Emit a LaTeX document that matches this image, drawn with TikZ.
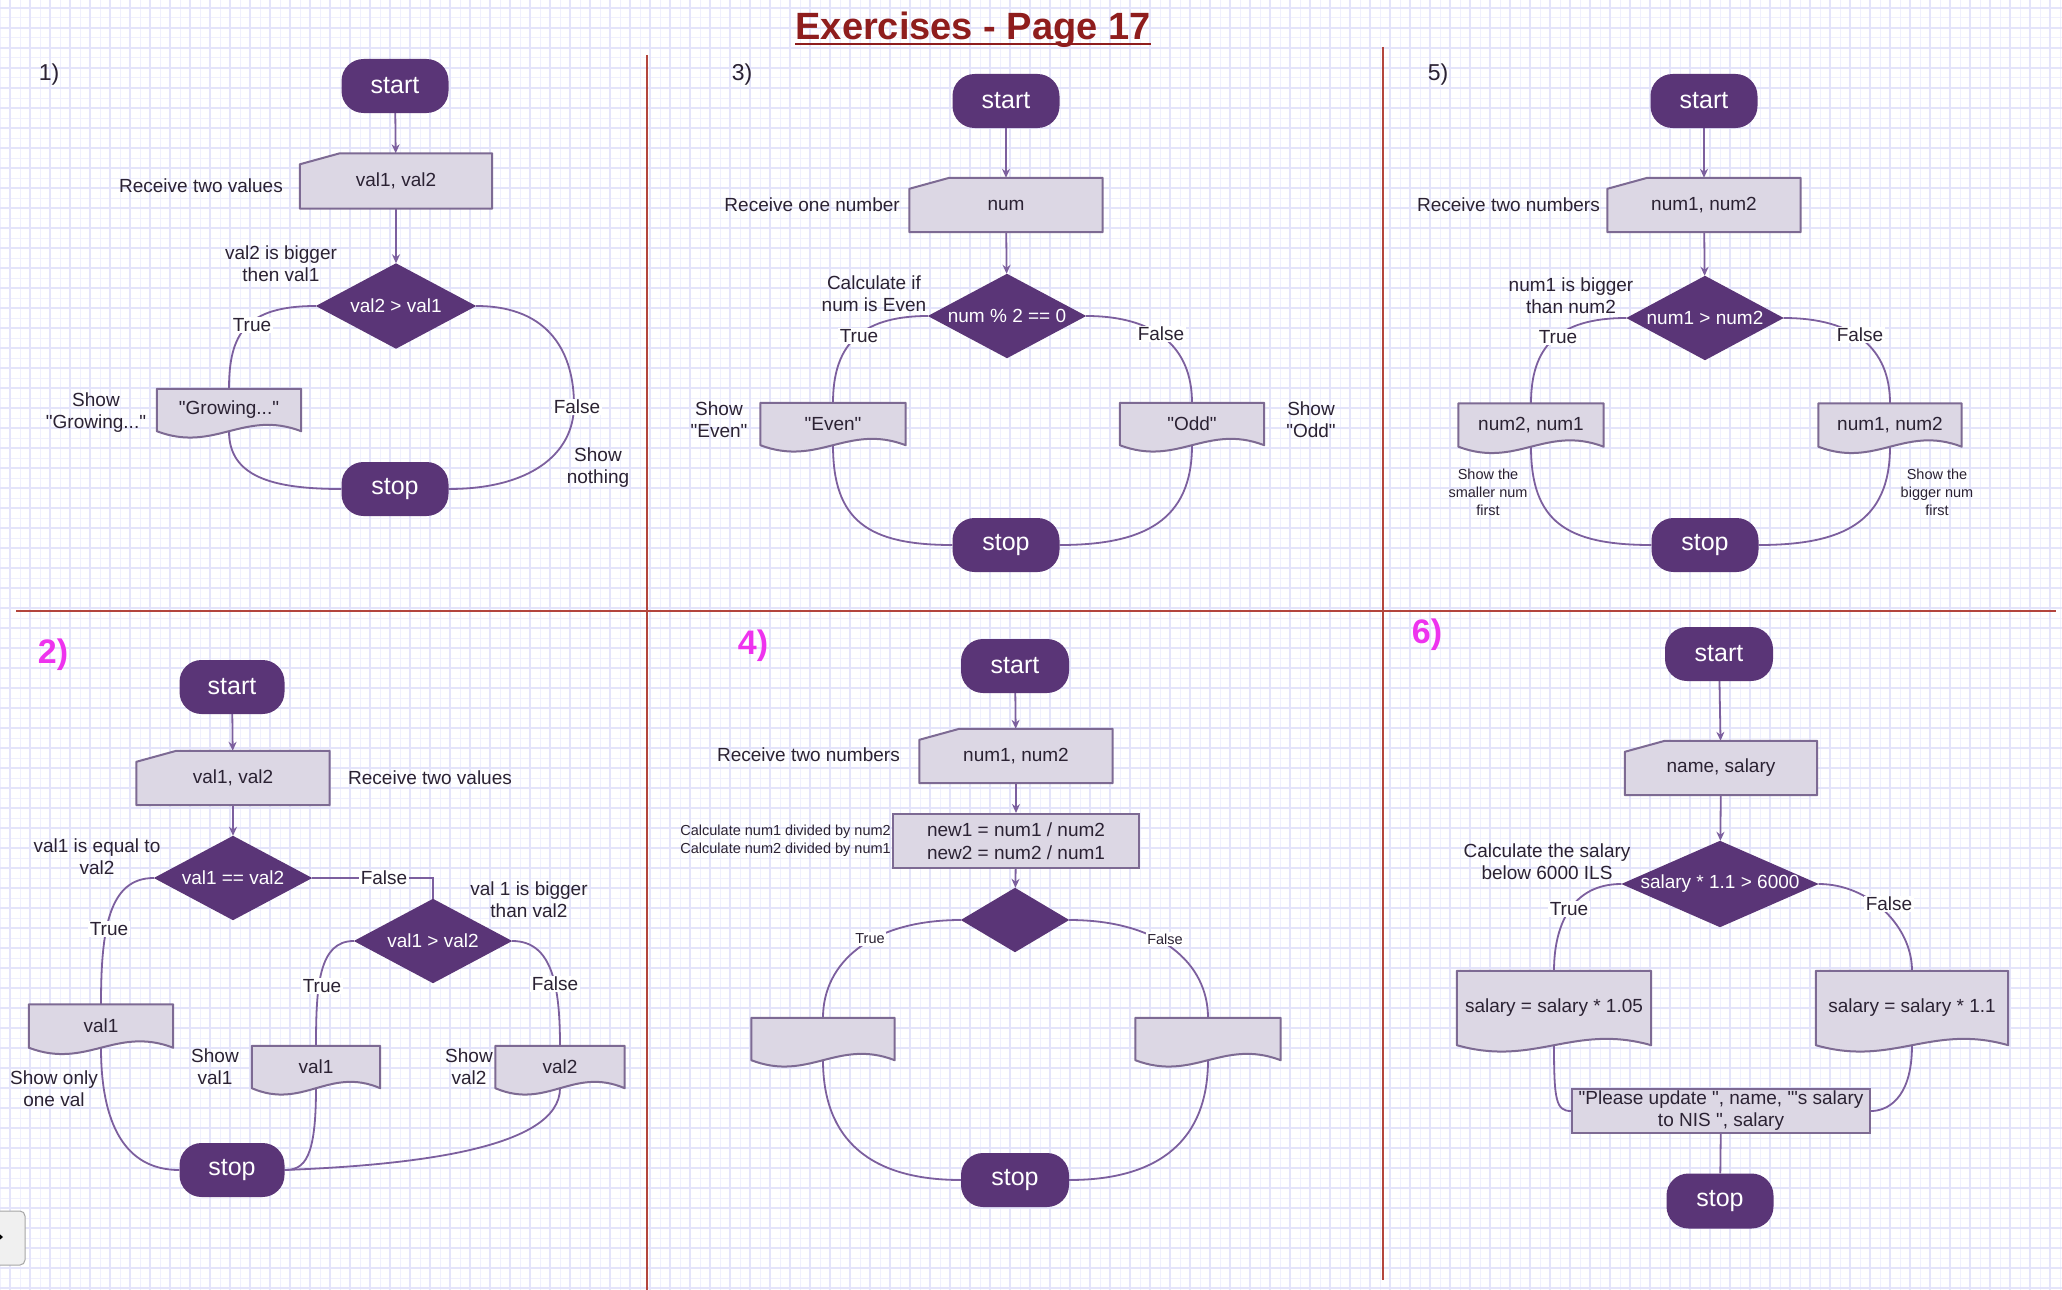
\documentclass[tikz,border=0pt]{standalone}
\usepackage{fontspec}
\setmainfont{Liberation Sans}
\newfontfamily\lsans{Liberation Sans}
\usetikzlibrary{calc,arrows.meta}
\definecolor{dpurple}{HTML}{5A3577}
\definecolor{boxfill}{HTML}{DCD7E4}
\definecolor{boxline}{HTML}{7D6A93}
\definecolor{connc}{HTML}{7C5F9E}
\definecolor{txt}{HTML}{2B2233}
\definecolor{divred}{HTML}{B3453D}
\definecolor{titlered}{HTML}{8F1D1D}
\definecolor{magen}{HTML}{EE33EE}
\definecolor{gridmaj}{HTML}{E4E4FA}
\definecolor{gridmin}{HTML}{F0F0FD}
\newcommand\lbfont{\lsans\fontsize{19}{22}\selectfont}
\newcommand\smfont{\lsans\fontsize{14.5}{18}\selectfont}
\newcommand\termfont{\lsans\fontsize{25}{28}\selectfont}
\newcommand\numfont{\lsans\fontsize{23}{26}\selectfont}
\newcommand\mnumfont{\lsans\bfseries\fontsize{34}{38}\selectfont}
\newcommand\prfont{\lsans\fontsize{19}{23}\selectfont}
\newcommand\ttlfont{\lsans\bfseries\fontsize{38}{42}\selectfont}
\pgfdeclarelayer{gridl}
\pgfdeclarelayer{lines}
\pgfdeclarelayer{bg}
\pgfsetlayers{gridl,lines,bg,main}
\newcommand\dshape[1]{\begin{pgfonlayer}{bg}\path[shpsty] (#1.north west) -- (#1.north east) -- (#1.south east) .. controls ($(#1.south west)!0.6!(#1.south east)+(0,-22)$) and ($(#1.south west)!0.4!(#1.south east)+(0,22)$) .. (#1.south west) -- cycle;\end{pgfonlayer}}
\newcommand\ishape[1]{\begin{pgfonlayer}{bg}\path[shpsty] (#1.south west) -- ($(#1.north west)+(0,11)$) -- ($(#1.north west)+(40,0)$) -- (#1.north east) -- (#1.south east) -- cycle;\end{pgfonlayer}}
\newcommand\kshape[1]{\begin{pgfonlayer}{bg}\fill[dpurple] (#1.north) -- (#1.east) -- (#1.south) -- (#1.west) -- cycle;\end{pgfonlayer}}
\begin{document}
\begin{tikzpicture}[x=1pt,y=-1pt,
  termsty/.style={rectangle,rounded corners=22pt,fill=dpurple,text=white,font=\termfont,minimum width=107pt,minimum height=54pt,inner sep=0pt},
  decsty/.style={rectangle,inner sep=0pt,text=white,font=\lbfont},
  inbox/.style={rectangle,inner sep=0pt,text=txt,font=\lbfont,minimum width=193pt,minimum height=54pt},
  docbox/.style={rectangle,inner sep=0pt,text=txt,font=\lbfont,minimum height=42pt},
  procbox/.style={rectangle,draw=boxline,fill=boxfill,line width=2pt,inner sep=0pt,text=txt,font=\prfont,align=center},
  labsty/.style={text=txt,font=\lbfont,align=center,inner sep=0pt},
  smlab/.style={text=txt,font=\smfont,align=center,inner sep=0pt},
  tfl/.style={text=txt,font=\lbfont,fill=white,inner sep=1.5pt},
  stfl/.style={text=txt,font=\smfont,fill=white,inner sep=1.5pt},
  connsty/.style={draw=connc,line width=1.8pt},
  arrsty/.style={connsty,-{Stealth[length=9pt,width=8pt]}},
  numsty/.style={text=txt,font=\numfont,inner sep=0pt},
  mnumsty/.style={text=magen,font=\mnumfont,inner sep=0pt},
  shpsty/.style={fill=boxfill,draw=boxline,line width=2pt,line join=round},
  divsty/.style={draw=divred,line width=2.5pt},
]
\useasboundingbox (0,0) rectangle (2062,1290);
% background grid
\begin{pgfonlayer}{gridl}
\fill[white] (0,0) rectangle (2062,1290);
\foreach \xx in {0,10,...,2060} \draw[gridmin,line width=1pt] (\xx,0) -- (\xx,1290);
\foreach \yy in {-2,8,...,1288} \draw[gridmin,line width=1pt] (0,\yy) -- (2062,\yy);
\foreach \xx in {10,30,...,2050} \draw[gridmaj,line width=1.6pt] (\xx,0) -- (\xx,1290);
\foreach \yy in {8,28,...,1288} \draw[gridmaj,line width=1.6pt] (0,\yy) -- (2062,\yy);
\draw[divsty] (16,611) -- (2056,611);
\draw[divsty] (647,55) -- (647,1290);
\draw[divsty] (1383,47) -- (1383,1280);
\end{pgfonlayer}
% title
\node[text=titlered,font=\ttlfont,inner sep=0pt,anchor=base] (title) at (973,40) {Exercises - Page 17};
\draw[titlered,line width=2.6pt] ($(title.base west)+(0,4)$) -- ($(title.base east)+(0,4)$);
% widget
\draw[fill=black!6,draw=black!35,rounded corners=5pt,line width=1pt] (-12,1211) rectangle (25,1265);
\fill[black] (-4,1231) -- (3,1237) -- (-4,1243) -- cycle;

% ===== Panel 1 =====
\node[numsty] (n1) at (49,75) {1)};
\node[termsty] (s1) at (395,86) {start};
\node[inbox,minimum width=192pt,minimum height=55pt] (i1) at (396,181) {val1, val2};
\node[labsty,anchor=east] (li1) at (283,186) {Receive two values};
\node[decsty,minimum width=160pt,minimum height=85pt] (d1) at (396,306) {val2 > val1};
\node[labsty] (ld1) at (281,264) {val2 is bigger\\then val1};
\node[docbox,minimum width=144pt] (g1) at (229,410) {"Growing..."};
\node[labsty] (lg1) at (96,413) {Show\\"Growing..."};
\node[termsty] (e1) at (395,489) {stop};
\coordinate (f1) at (574,405);
\ishape{i1}\kshape{d1}\dshape{g1}
\begin{pgfonlayer}{lines}
\draw[arrsty] (s1) -- (i1);
\draw[arrsty] (i1) -- (d1);
\draw[connsty] (d1.west) .. controls +(-70,0) and +(0,-55) .. (g1.north);
\draw[connsty] (g1.south) .. controls +(0,45) and +(-70,0) .. (e1.west);
\draw[connsty] (d1.east) .. controls +(75,0) and +(0,-50) .. (f1) .. controls +(0,50) and +(80,0) .. (e1.east);
\end{pgfonlayer}
\node[tfl] (t1) at (252,325) {True};
\node[tfl] (ff1) at (577,407) {False};
\node[labsty] (ln1) at (598,468) {Show\\nothing};

% ===== Panel 3 =====
\node[numsty] (n3) at (742,75) {3)};
\node[termsty] (s3) at (1006,101) {start};
\node[inbox] (i3) at (1006,205) {num};
\node[labsty,anchor=east] (li3) at (900,205) {Receive one number};
\node[decsty,minimum width=158pt,minimum height=84pt] (d3) at (1007,316) {num \% 2 == 0};
\node[labsty] (ld3) at (874,294) {Calculate if\\num is Even};
\node[docbox,minimum width=145pt] (v3) at (833,424) {"Even"};
\node[docbox,minimum width=144pt] (o3) at (1192,424) {"Odd"};
\node[labsty] (lv3) at (719,420) {Show\\"Even"};
\node[labsty] (lo3) at (1311,420) {Show\\"Odd"};
\node[termsty] (e3) at (1006,545) {stop};
\ishape{i3}\kshape{d3}\dshape{v3}\dshape{o3}
\begin{pgfonlayer}{lines}
\draw[arrsty] (s3) -- (i3);
\draw[arrsty] (i3) -- (d3);
\draw[connsty] (d3.west) .. controls +(-70,0) and +(0,-55) .. (v3.north);
\draw[connsty] (d3.east) .. controls +(70,0) and +(0,-55) .. (o3.north);
\draw[connsty] (v3.south) .. controls +(0,75) and +(-85,0) .. (e3.west);
\draw[connsty] (o3.south) .. controls +(0,75) and +(85,0) .. (e3.east);
\end{pgfonlayer}
\node[tfl] (t3) at (859,336) {True};
\node[tfl] (ff3) at (1161,334) {False};

% ===== Panel 5 =====
\node[numsty] (n5) at (1438,75) {5)};
\node[termsty] (s5) at (1704,101) {start};
\node[inbox] (i5) at (1704,205) {num1, num2};
\node[labsty,anchor=east] (li5) at (1600,205) {Receive two numbers};
\node[decsty,minimum width=157pt,minimum height=84pt] (d5) at (1705,318) {num1 > num2};
\node[labsty] (ld5) at (1571,296) {num1 is bigger\\than num2};
\node[docbox,minimum width=145pt,minimum height=43pt] (l5) at (1531,425) {num2, num1};
\node[docbox,minimum width=143pt,minimum height=43pt] (r5) at (1890,425) {num1, num2};
\node[smlab] (ll5) at (1488,492) {Show the\\smaller num\\first};
\node[smlab] (lr5) at (1937,492) {Show the\\bigger num\\first};
\node[termsty] (e5) at (1705,545) {stop};
\ishape{i5}\kshape{d5}\dshape{l5}\dshape{r5}
\begin{pgfonlayer}{lines}
\draw[arrsty] (s5) -- (i5);
\draw[arrsty] (i5) -- (d5);
\draw[connsty] (d5.west) .. controls +(-70,0) and +(0,-55) .. (l5.north);
\draw[connsty] (d5.east) .. controls +(70,0) and +(0,-55) .. (r5.north);
\draw[connsty] (l5.south) .. controls +(0,75) and +(-85,0) .. (e5.west);
\draw[connsty] (r5.south) .. controls +(0,75) and +(85,0) .. (e5.east);
\end{pgfonlayer}
\node[tfl] (t5) at (1558,337) {True};
\node[tfl] (ff5) at (1860,335) {False};

% ===== Panel 2 =====
\node[mnumsty] (n2) at (53,655) {2)};
\node[termsty,minimum width=105pt] (s2) at (232,687) {start};
\node[inbox] (i2) at (233,778) {val1, val2};
\node[labsty,anchor=west] (li2) at (348,778) {Receive two values};
\node[decsty,minimum width=158pt,minimum height=84pt] (da2) at (233,878) {val1 == val2};
\node[labsty] (lda2) at (97,857) {val1 is equal to\\val2};
\node[decsty,minimum width=158pt,minimum height=84pt] (db2) at (433,941) {val1 > val2};
\node[labsty] (ldb2) at (529,900) {val 1 is bigger\\than val2};
\node[docbox,minimum width=144pt,minimum height=43pt] (a2) at (101,1026) {val1};
\node[labsty] (la2) at (54,1089) {Show only\\one val};
\node[docbox,minimum width=128pt] (b2) at (316,1067) {val1};
\node[labsty] (lb2) at (215,1067) {Show\\val1};
\node[docbox,minimum width=129pt] (c2) at (560,1067) {val2};
\node[labsty] (lc2) at (469,1067) {Show\\val2};
\node[termsty,minimum width=105pt] (e2) at (232,1170) {stop};
\ishape{i2}\kshape{da2}\kshape{db2}\dshape{a2}\dshape{b2}\dshape{c2}
\begin{pgfonlayer}{lines}
\draw[arrsty] (s2) -- (i2);
\draw[arrsty] (i2) -- (da2);
\draw[connsty] (da2.east) -| (db2.north);
\draw[connsty] (da2.west) .. controls +(-45,0) and +(0,-75) .. (a2.north);
\draw[connsty] (a2.south) .. controls +(0,75) and +(-55,0) .. (e2.west);
\draw[connsty] (db2.west) .. controls +(-35,0) and +(0,-60) .. (b2.north);
\draw[connsty] (b2.south) .. controls +(0,70) and +(20,0) .. (e2.east);
\draw[connsty] (db2.east) .. controls +(40,0) and +(0,-60) .. (c2.north);
\draw[connsty] (c2.south) .. controls +(0,60) and +(130,-5) .. (e2.east);
\end{pgfonlayer}
\node[tfl] (fa2) at (384,878) {False};
\node[tfl] (ta2) at (109,929) {True};
\node[tfl] (tb2) at (322,986) {True};
\node[tfl] (fb2) at (555,984) {False};

% ===== Panel 4 =====
\node[mnumsty] (n4) at (753,646) {4)};
\node[termsty,minimum width=108pt] (s4) at (1015,666) {start};
\node[inbox] (i4) at (1016,756) {num1, num2};
\node[labsty,anchor=east] (li4) at (900,755) {Receive two numbers};
\node[procbox,minimum width=246pt,minimum height=54pt] (c4) at (1016,841) {new1 = num1 / num2\\new2 = num2 / num1};
\node[smlab,anchor=east,align=left] (lc4) at (891,841) {Calculate num1 divided by num2\\Calculate num2 divided by num1};
\node[decsty,minimum width=108pt,minimum height=64pt] (d4) at (1015,920) {};
\node[docbox,minimum width=143pt] (L4) at (823,1039) {};
\node[docbox,minimum width=145pt] (R4) at (1208,1039) {};
\node[termsty,minimum width=108pt] (e4) at (1015,1180) {stop};
\ishape{i4}\kshape{d4}\dshape{L4}\dshape{R4}
\begin{pgfonlayer}{lines}
\draw[arrsty] (s4) -- (i4);
\draw[arrsty] (i4) -- (c4);
\draw[arrsty] (c4) -- (d4);
\draw[connsty] (d4.west) .. controls +(-90,0) and +(0,-55) .. (L4.north);
\draw[connsty] (d4.east) .. controls +(90,0) and +(0,-55) .. (R4.north);
\draw[connsty] (L4.south) .. controls +(0,80) and +(-90,0) .. (e4.west);
\draw[connsty] (R4.south) .. controls +(0,80) and +(90,0) .. (e4.east);
\end{pgfonlayer}
\node[stfl] (t4) at (870,939) {True};
\node[stfl] (ff4) at (1165,939) {False};

% ===== Panel 6 =====
\node[mnumsty] (n6) at (1427,635) {6)};
\node[termsty,minimum width=108pt] (s6) at (1719,654) {start};
\node[inbox,minimum width=192pt] (i6) at (1721,768) {name, salary};
\node[decsty,minimum width=197pt,minimum height=86pt] (d6) at (1720,884) {salary * 1.1 > 6000};
\node[labsty] (ld6) at (1547,862) {Calculate the salary\\below 6000 ILS};
\node[docbox,minimum width=194pt,minimum height=74pt] (l6) at (1554,1008) {salary = salary * 1.05};
\node[docbox,minimum width=192pt,minimum height=74pt] (r6) at (1912,1008) {salary = salary * 1.1};
\node[procbox,minimum width=298pt,minimum height=44pt,font=\lbfont] (o6) at (1721,1111) {"Please update ", name, "'s salary\\to NIS ", salary};
\node[termsty,minimum width=107pt,minimum height=55pt] (e6) at (1720,1201) {stop};
\ishape{i6}\kshape{d6}\dshape{l6}\dshape{r6}
\begin{pgfonlayer}{lines}
\draw[arrsty] (s6) -- (i6);
\draw[arrsty] (i6) -- (d6);
\draw[connsty] (d6.west) .. controls +(-50,0) and +(0,-45) .. (l6.north);
\draw[connsty] (d6.east) .. controls +(50,0) and +(0,-45) .. (r6.north);
\draw[connsty] (l6.south) .. controls +(0,55) and +(-15,0) .. (o6.west);
\draw[connsty] (r6.south) .. controls +(0,55) and +(15,0) .. (o6.east);
\draw[connsty] (o6) -- (e6);
\end{pgfonlayer}
\node[tfl] (t6) at (1569,909) {True};
\node[tfl] (ff6) at (1889,904) {False};
\end{tikzpicture}
\end{document}
